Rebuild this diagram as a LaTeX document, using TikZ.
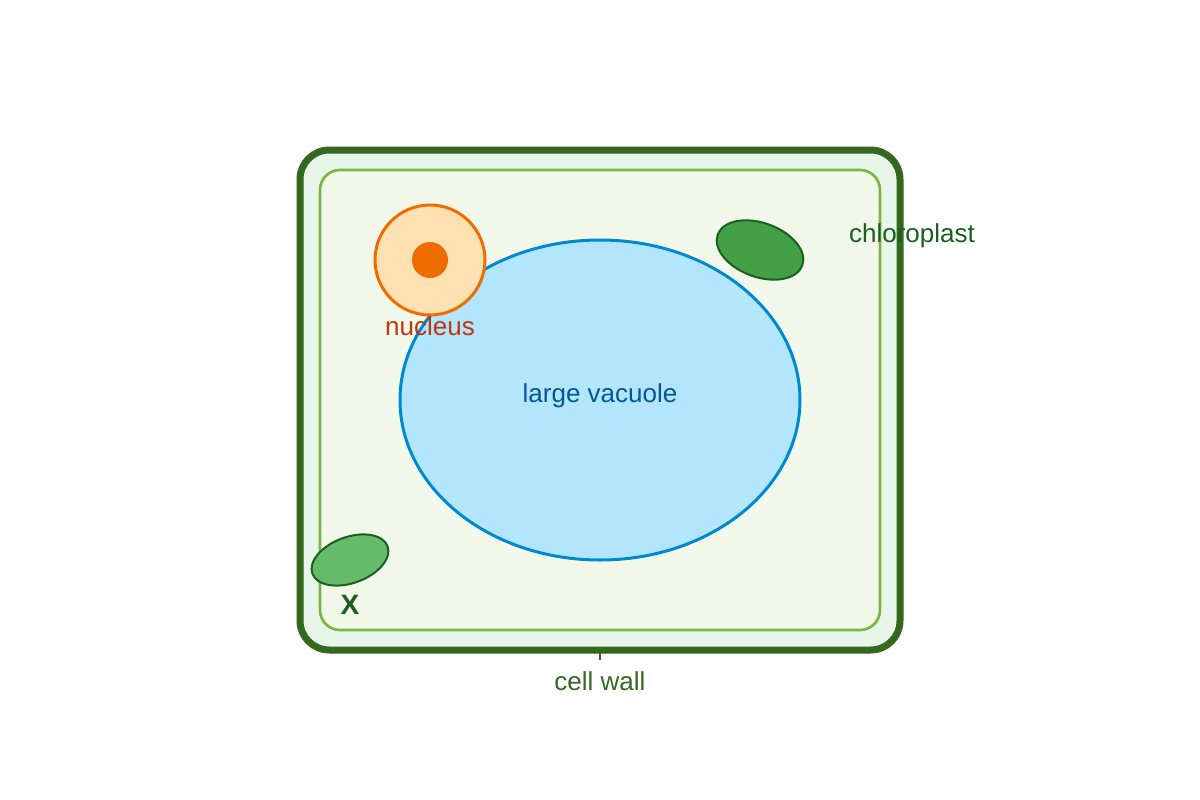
\documentclass[tikz,border=0pt]{standalone}
\usepackage{fontspec}
\setmainfont{Liberation Sans}
\begin{document}
\begin{tikzpicture}[x=0.75pt,y=-0.75pt,
  lbl/.style={font=\fontsize{19.5}{22}\selectfont, inner sep=0pt}]
\definecolor{wall}{HTML}{33691E}
\definecolor{wallfill}{HTML}{E8F5E9}
\definecolor{memb}{HTML}{7CB342}
\definecolor{cyto}{HTML}{F1F8E9}
\definecolor{vacf}{HTML}{B3E5FC}
\definecolor{vacs}{HTML}{0288D1}
\definecolor{nucf}{HTML}{FFE0B2}
\definecolor{nucs}{HTML}{EF6C00}
\definecolor{chl}{HTML}{43A047}
\definecolor{chlx}{HTML}{66BB6A}
\definecolor{chls}{HTML}{1B5E20}
\useasboundingbox (0,0) rectangle (1200,800);
\draw[wall, line width=5.25pt, fill=wallfill, rounded corners=22pt] (300,150) rectangle (900,650);
\draw[memb, line width=2pt, fill=cyto, rounded corners=15pt] (320,170) rectangle (880,630);
\draw[vacs, line width=2.25pt, fill=vacf] (600,400) ellipse [x radius=200, y radius=160];
\node[circle, draw=nucs, line width=2.25pt, fill=nucf, minimum size=82.5pt, inner sep=0pt] (nuc) at (430,260) {};
\node[circle, fill=nucs, minimum size=27pt, inner sep=0pt] (nucl) at (430,260) {};
\draw[chls, line width=1.5pt, fill=chl, rotate around={-20:(760,250)}] (760,250) ellipse [x radius=45, y radius=27];
\draw[chls, line width=1.5pt, fill=chlx, rotate around={20:(350,560)}] (350,560) ellipse [x radius=40, y radius=23];
\node[lbl, text=chls] (lc) at (912,236) {chloroplast};
\node[lbl, text={rgb,255:red,191;green,54;blue,12}] (ln) at (430,326) {nucleus};
\node[lbl, text={rgb,255:red,1;green,87;blue,155}] (lv) at (600,396) {large vacuole};
\node[lbl, text=chls, font=\fontsize{21}{24}\selectfont\bfseries] (lx) at (350,605) {X};
\node[lbl, text=wall] (lw) at (600,681) {cell wall};
\coordinate (t1) at (600,650);
\coordinate (t2) at (600,660);
\draw[wall, line width=1pt] (t1) -- (t2);
\end{tikzpicture}
\end{document}
